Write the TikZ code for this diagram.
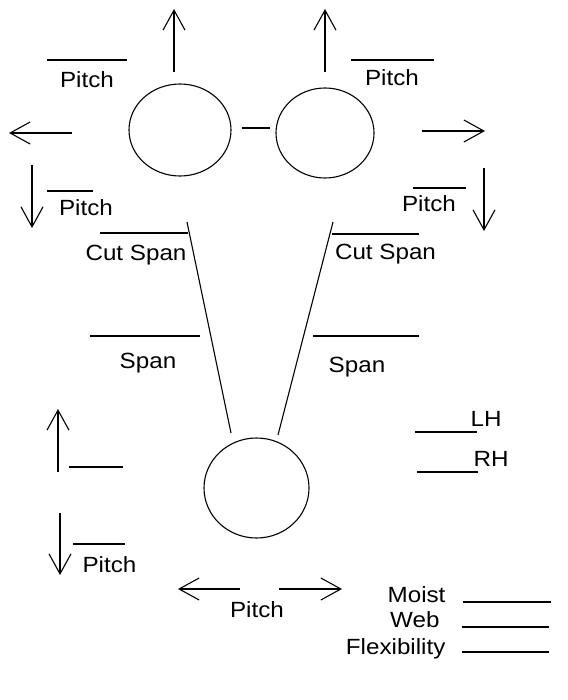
\documentclass[tikz,border=0pt]{standalone}
\usepackage{fontspec}
\setmainfont[FakeStretch=1.1]{Liberation Sans}
\usetikzlibrary{arrows.meta,shapes.geometric}
\begin{document}
\begin{tikzpicture}[x=1pt,y=-1pt,
  every path/.style={line width=1.1pt},
  lbl/.style={inner sep=0pt,anchor=base,font=\fontsize{22}{24}\selectfont},
  lblw/.style={lbl,anchor=base west},
  lble/.style={lbl,anchor=base east},
  ring/.style={draw,ellipse,inner sep=0pt},
  arr/.style={-{Straight Barb[length=20pt,width=22pt,line width=1.1pt]}},
  blank/.style={draw}]
\useasboundingbox[fill=white] (0,0) rectangle (567,700);
% circles
\node[ring,minimum width=102pt,minimum height=92pt] (c1) at (180,130) {};
\node[ring,minimum width=98pt,minimum height=90pt] (c2) at (325,133) {};
\node[ring,minimum width=105pt,minimum height=100pt] (c3) at (256.5,488) {};
\draw (c1.east) ++(10,-2) coordinate (j1) (c2.west) ++(-5,-5) coordinate (j2);
\draw (j1) -- (j2);
% stems
\coordinate (sl1) at (187,222); \coordinate (sl2) at (231,433);
\coordinate (sr1) at (333,222); \coordinate (sr2) at (278,435);
\draw (sl1) -- (sl2);
\draw (sr1) -- (sr2);
% top-left arrows
\coordinate (a1s) at (174,72); \coordinate (a1e) at (174,9);
\draw[arr] (a1s) -- (a1e);
\coordinate (a2s) at (72,133); \coordinate (a2e) at (9,133);
\draw[arr] (a2s) -- (a2e);
\coordinate (a3s) at (32,165); \coordinate (a3e) at (32,228);
\draw[arr] (a3s) -- (a3e);
% top-right arrows
\coordinate (a4s) at (325,72); \coordinate (a4e) at (325,9);
\draw[arr] (a4s) -- (a4e);
\coordinate (a5s) at (422,131); \coordinate (a5e) at (485,131);
\draw[arr] (a5s) -- (a5e);
\coordinate (a6s) at (484,168); \coordinate (a6e) at (484,231);
\draw[arr] (a6s) -- (a6e);
% bottom-left arrows
\coordinate (a7s) at (58,472); \coordinate (a7e) at (58,409);
\draw[arr] (a7s) -- (a7e);
\coordinate (a8s) at (60,513); \coordinate (a8e) at (60,575);
\draw[arr] (a8s) -- (a8e);
% bottom pitch arrows
\coordinate (a9s) at (240,589); \coordinate (a9e) at (178,589);
\draw[arr] (a9s) -- (a9e);
\coordinate (a10s) at (279,589); \coordinate (a10e) at (342,589);
\draw[arr] (a10s) -- (a10e);
% blank lines
\draw[blank] (47,60) -- (127,60);
\draw[blank] (47,191) -- (93,191);
\draw[blank] (100,233) -- (188,233);
\draw[blank] (90,336) -- (200,336);
\draw[blank] (351,60) -- (434,60);
\draw[blank] (413,188) -- (466,188);
\draw[blank] (332,234) -- (419,234);
\draw[blank] (313,336) -- (419,336);
\draw[blank] (69,467) -- (123,467);
\draw[blank] (73,544) -- (125,544);
\draw[blank] (415,432) -- (477,432);
\draw[blank] (417,472) -- (478,472);
\draw[blank] (463,602) -- (551,602);
\draw[blank] (462,627) -- (549,627);
\draw[blank] (462,652) -- (549,652);
% labels
\node[lbl] (p1) at (87,88) {Pitch};
\node[lbl] (p2) at (86,216) {Pitch};
\node[lbl] (cs1) at (136,261) {Cut Span};
\node[lbl] (sp1) at (148,368) {Span};
\node[lbl] (p3) at (392,86) {Pitch};
\node[lbl] (p4) at (429,212) {Pitch};
\node[lbl] (cs2) at (385.5,259) {Cut Span};
\node[lbl] (sp2) at (357,372) {Span};
\node[lbl] (p5) at (109.5,572) {Pitch};
\node[lbl] (p6) at (257,617) {Pitch};
\node[lblw] (lh) at (470,426) {LH};
\node[lblw] (rh) at (473,466) {RH};
\node[lble] (mo) at (446,602) {Moist};
\node[lble] (wb) at (440,627) {Web};
\node[lble] (fx) at (446,654) {Flexibility};
\end{tikzpicture}
\end{document}
